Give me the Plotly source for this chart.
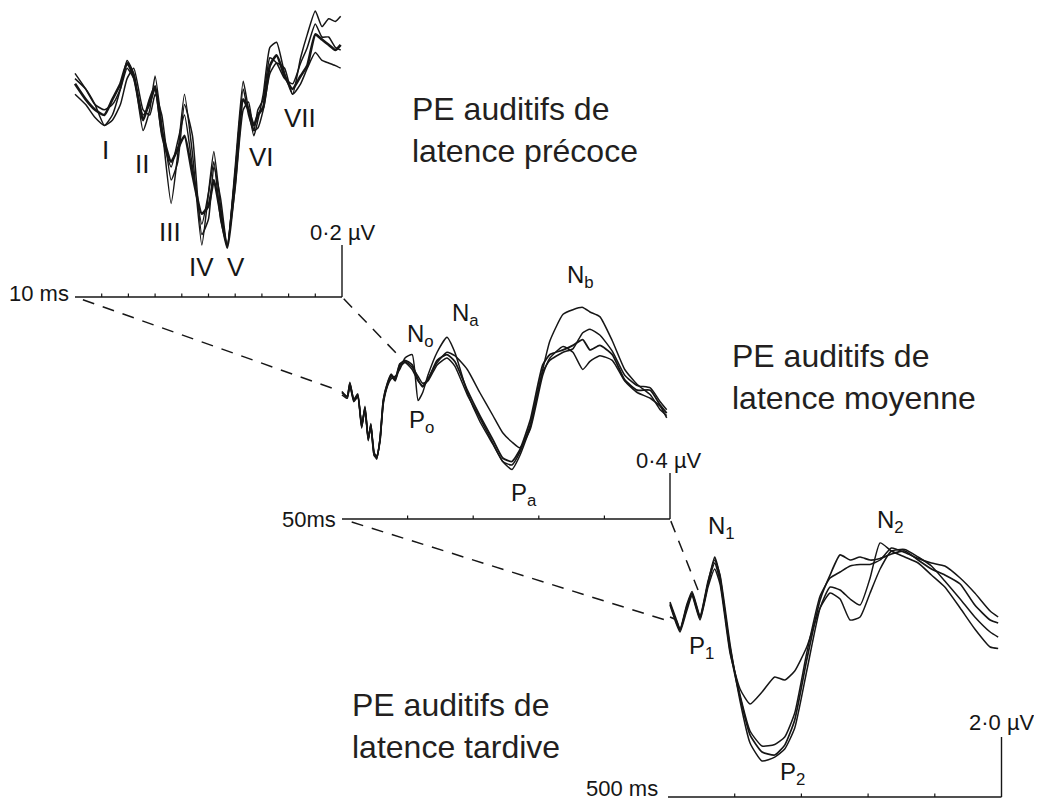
import numpy as np
import plotly.graph_objects as go

W, H = 1042, 804
OFF = 8  # marge du <body> de la page html
FIG_W, FIG_H = W - OFF, H - OFF

# PE précoces : temps (ms) et amplitudes (µV) de 4 essais
t_early = [0, 0.4, 0.75, 1.1, 1.4, 1.7, 1.95, 2.2, 2.55, 2.8, 3.0, 3.25, 3.6, 3.85, 4.1,
           4.4, 4.75, 5.0, 5.2, 5.45, 5.7, 6.0, 6.3, 6.5, 6.7, 6.85, 7.05, 7.3, 7.55, 7.85,
           8.15, 8.45, 8.7, 9.0, 9.25, 9.5, 9.75, 9.95]
early_a = [0.82, 0.76, 0.72, 0.70, 0.76, 0.82, 0.90, 0.85, 0.68, 0.76, 0.81, 0.64, 0.52, 0.57, 0.62,
           0.47, 0.32, 0.35, 0.45, 0.32, 0.19, 0.45, 0.76, 0.72, 0.66, 0.70, 0.73, 0.89, 0.93, 0.85,
           0.80, 0.85, 0.89, 1.01, 0.99, 0.97, 0.95, 0.97]
early_b = [0.84, 0.80, 0.74, 0.66, 0.70, 0.80, 0.91, 0.86, 0.64, 0.72, 0.85, 0.66, 0.36, 0.55, 0.78,
           0.55, 0.20, 0.40, 0.56, 0.35, 0.19, 0.50, 0.83, 0.72, 0.62, 0.68, 0.78, 0.96, 0.98, 0.86,
           0.78, 0.92, 1.01, 1.10, 1.04, 1.07, 1.06, 1.08]
early_c = [0.78, 0.74, 0.69, 0.66, 0.68, 0.74, 0.84, 0.88, 0.72, 0.70, 0.78, 0.70, 0.45, 0.52, 0.74,
           0.62, 0.24, 0.30, 0.50, 0.38, 0.20, 0.42, 0.72, 0.75, 0.64, 0.65, 0.72, 0.86, 0.90, 0.88,
           0.78, 0.82, 0.88, 0.94, 0.91, 0.90, 0.89, 0.88]
early_d = [0.86, 0.80, 0.74, 0.72, 0.74, 0.80, 0.88, 0.84, 0.70, 0.74, 0.80, 0.62, 0.50, 0.60, 0.70,
           0.50, 0.28, 0.40, 0.52, 0.30, 0.20, 0.48, 0.80, 0.70, 0.64, 0.72, 0.76, 0.92, 0.90, 0.84,
           0.82, 0.90, 0.96, 1.05, 1.00, 1.00, 0.96, 0.95]

# PE de latence moyenne
t_mid = [0, 0.8, 1.2, 1.8, 2.4, 3.0, 3.5, 4.0, 4.4, 4.9, 5.3, 5.8, 6.3, 6.9, 7.5,
         8.1, 8.8, 9.6, 10.7, 11.6, 12.3, 13.1, 14.5, 16.0, 17.2, 19.1, 21.0, 23.0, 24.5, 25.9,
         27.1, 28.7, 30.6, 31.7, 33.7, 35.2, 36.7, 37.8, 39.3, 41.2, 43.1, 45.0, 47.0, 48.5, 49.5]
mid_a = [1.10, 1.06, 1.18, 1.03, 1.08, 0.80, 0.97, 0.69, 0.82, 0.56, 0.54, 0.69, 1.03, 1.17, 1.25,
         1.21, 1.34, 1.38, 1.34, 1.21, 1.15, 1.21, 1.38, 1.43, 1.37, 1.12, 0.90, 0.69, 0.53, 0.50,
         0.60, 0.86, 1.34, 1.43, 1.47, 1.51, 1.56, 1.47, 1.51, 1.43, 1.21, 1.12, 1.12, 0.99, 0.92]
mid_b = [1.08, 1.05, 1.16, 1.02, 1.06, 0.82, 0.95, 0.70, 0.80, 0.58, 0.52, 0.70, 1.00, 1.15, 1.22,
         1.24, 1.30, 1.40, 1.43, 1.03, 1.10, 1.25, 1.45, 1.58, 1.45, 1.10, 0.85, 0.65, 0.50, 0.43,
         0.55, 0.80, 1.30, 1.55, 1.78, 1.82, 1.84, 1.80, 1.76, 1.55, 1.30, 1.17, 1.08, 0.95, 0.90]
mid_c = [1.10, 1.07, 1.17, 1.04, 1.07, 0.81, 0.96, 0.70, 0.81, 0.57, 0.55, 0.68, 1.02, 1.16, 1.24,
         1.20, 1.32, 1.36, 1.30, 1.20, 1.16, 1.22, 1.36, 1.45, 1.42, 1.30, 1.10, 0.90, 0.75, 0.67,
         0.62, 0.78, 1.25, 1.40, 1.50, 1.45, 1.30, 1.37, 1.42, 1.38, 1.20, 1.10, 1.05, 0.98, 0.88]
mid_d = [1.11, 1.06, 1.19, 1.04, 1.09, 0.79, 0.98, 0.68, 0.83, 0.55, 0.53, 0.70, 1.04, 1.18, 1.26,
         1.22, 1.35, 1.37, 1.32, 1.24, 1.18, 1.20, 1.34, 1.40, 1.33, 1.08, 0.88, 0.66, 0.50, 0.47,
         0.58, 0.82, 1.28, 1.38, 1.45, 1.48, 1.62, 1.65, 1.60, 1.46, 1.25, 1.16, 1.14, 1.02, 0.95]

# PE tardifs
t_late = [3, 12, 18, 28, 36, 48, 60, 70, 78, 93, 108, 123, 141, 160, 175,
          190, 208, 228, 243, 258, 273, 288, 303, 318, 335, 355, 375, 395, 415, 438,
          460, 483, 495]
late_a = [6.00, 5.90, 5.57, 6.33, 6.80, 6.00, 7.13, 8.00, 7.33, 4.90, 3.33, 2.07, 1.50, 1.40, 1.73,
          2.57, 4.57, 6.57, 7.40, 8.07, 7.90, 8.00, 7.90, 7.95, 8.10, 8.20, 7.90, 7.60, 7.40, 7.10,
          6.40, 5.90, 5.80]
late_b = [6.40, 5.80, 5.50, 6.20, 6.70, 5.90, 7.00, 7.60, 7.10, 4.80, 3.60, 3.10, 3.50, 4.00, 3.90,
          4.20, 5.00, 6.30, 6.80, 6.60, 5.90, 6.00, 6.80, 7.60, 8.20, 8.25, 8.00, 7.70, 7.20, 6.60,
          6.00, 5.50, 5.33]
late_c = [6.50, 5.95, 5.60, 6.40, 6.85, 6.05, 7.20, 7.90, 7.40, 5.10, 3.20, 1.80, 1.20, 1.33, 1.60,
          2.30, 4.20, 6.30, 7.00, 6.90, 6.60, 6.40, 7.30, 8.47, 8.20, 8.00, 7.80, 7.40, 7.00, 6.30,
          5.60, 5.00, 4.95]
late_d = [6.45, 5.85, 5.55, 6.30, 6.75, 5.95, 7.10, 7.80, 7.20, 5.00, 3.40, 2.20, 1.70, 1.75, 2.00,
          2.80, 4.80, 6.70, 7.30, 7.50, 7.70, 7.75, 7.75, 7.90, 8.30, 8.15, 7.95, 7.80, 7.70, 7.30,
          6.80, 6.20, 6.00]

# durée de l'axe (ms), pas des graduations, barre d'échelle (µV)
durations = [10, 50, 500]
tick_steps = [1, 10, 100]
scale_uv = [0.2, 0.4, 2.0]
dur_labels = ["10 ms", "50ms", "500 ms"]
scale_labels = ["0·2 µV", "0·4 µV", "2·0 µV"]

INK = "#161616"
LBL_FONT = dict(family="Liberation Sans", size=22, color=INK)
PEAK_FONT = dict(family="Liberation Sans", size=24, color=INK)

# mise en page de chaque panneau : origine (px de l'image), px par ms, px par µV
panels = [
    dict(t=t_early, ys=[early_a, early_b, early_c, early_d], widths=[2.6, 1.5, 1.5, 1.5],
         origin=(75, 297), px_ms=26.7, px_uv=260,
         peaks=[("I", 1.16, 0.565), ("II", 2.51, 0.51), ("III", 3.56, 0.25), ("IV", 4.72, 0.115),
                ("V", 6.03, 0.115), ("VI", 6.97, 0.54), ("VII", 8.43, 0.69)],
         dur_pos=(-0.15, 0.015), scale_pos=(10.05, 0.25), peak_size=26),
    dict(t=t_mid, ys=[mid_a, mid_b, mid_c, mid_d], widths=[1.8, 1.5, 1.5, 1.5],
         origin=(342, 519), px_ms=6.56, px_uv=115,
         peaks=[("N<sub>o</sub>", 11.9, 1.60), ("N<sub>a</sub>", 18.8, 1.78), ("N<sub>b</sub>", 36.3, 2.11),
                ("P<sub>o</sub>", 12.1, 0.85), ("P<sub>a</sub>", 27.8, 0.21)],
         dur_pos=(-0.6, 0.0), scale_pos=(49.8, 0.51), peak_size=24),
    dict(t=t_late, ys=[late_a, late_b, late_c, late_d], widths=[1.7, 1.5, 1.5, 1.5],
         origin=(668, 797), px_ms=0.667, px_uv=30,
         peaks=[("N<sub>1</sub>", 80, 9.0), ("N<sub>2</sub>", 333, 9.2),
                ("P<sub>1</sub>", 50, 5.0), ("P<sub>2</sub>", 187, 0.77)],
         dur_pos=(-12, 0.27), scale_pos=(501, 2.47), peak_size=24),
]

titles = [("PE auditifs de<br>latence précoce", 410, 130),
          ("PE auditifs de<br>latence moyenne", 730, 377),
          ("PE auditifs de<br>latence tardive", 350, 726)]


def to_paper(p, t, v):
    ox, oy = p["origin"]
    return (ox - OFF + t * p["px_ms"]) / FIG_W, 1 - (oy - OFF - v * p["px_uv"]) / FIG_H


fig = go.Figure()
shapes = []
annotations = []

for i, p in enumerate(panels):
    k = "" if i == 0 else str(i + 1)
    xa, ya = "x" + k, "y" + k
    ox, oy = p["origin"][0] - OFF, p["origin"][1] - OFF
    sx, sy = p["px_ms"], p["px_uv"]
    fig.update_layout({
        "xaxis" + k: dict(domain=[0, 1], range=[-ox / sx, (FIG_W - ox) / sx], visible=False,
                          anchor=ya, fixedrange=True),
        "yaxis" + k: dict(domain=[0, 1], range=[(oy - FIG_H) / sy, oy / sy], visible=False,
                          anchor=xa, fixedrange=True),
    })
    for y, w in zip(p["ys"], p["widths"]):
        fig.add_trace(go.Scatter(x=p["t"], y=y, mode="lines", xaxis=xa, yaxis=ya,
                                 line=dict(color=INK, width=w, shape="spline", smoothing=0.5),
                                 showlegend=False, hoverinfo="skip"))

    dur, step, sc = durations[i], tick_steps[i], scale_uv[i]
    line = dict(color=INK, width=1.4)
    # axe du temps, graduations, barre d'échelle
    shapes.append(dict(type="line", xref=xa, yref=ya, x0=0, x1=dur, y0=0, y1=0, line=line))
    for tk in np.arange(step, dur, step):
        shapes.append(dict(type="line", xref=xa, yref=ya, x0=tk, x1=tk, y0=0, y1=3.5 / sy,
                           line=dict(color=INK, width=1.2)))
    shapes.append(dict(type="line", xref=xa, yref=ya, x0=dur, x1=dur, y0=0, y1=sc, line=line))

    annotations.append(dict(xref=xa, yref=ya, x=p["dur_pos"][0], y=p["dur_pos"][1],
                            text=dur_labels[i], showarrow=False, xanchor="right",
                            yanchor="middle", font=LBL_FONT))
    annotations.append(dict(xref=xa, yref=ya, x=p["scale_pos"][0], y=p["scale_pos"][1],
                            text=scale_labels[i], showarrow=False, xanchor="center",
                            yanchor="middle", font=LBL_FONT))
    for txt, tx, ty in p["peaks"]:
        annotations.append(dict(xref=xa, yref=ya, x=tx, y=ty, text=txt, showarrow=False,
                                xanchor="center", yanchor="middle",
                                font=dict(PEAK_FONT, size=p["peak_size"])))

# traits pointillés reliant les fenêtres temporelles
connectors = [(0, 0, 0, 1, -0.6, 1.12), (0, 10, 0, 1, 8.8, 1.41),
              (1, 0, 0, 2, -4, 5.9), (1, 50, 0, 2, 45, 6.9)]
for a, ta, va, b, tb, vb in connectors:
    x0, y0 = to_paper(panels[a], ta, va)
    x1, y1 = to_paper(panels[b], tb, vb)
    # petit décalage au départ comme sur la figure
    x0, y0 = x0 + 0.03 * (x1 - x0), y0 + 0.03 * (y1 - y0)
    shapes.append(dict(type="line", xref="paper", yref="paper", x0=x0, y0=y0, x1=x1, y1=y1,
                       line=dict(color=INK, width=1.5, dash="12px,9px")))

for txt, x, y in titles:
    annotations.append(dict(xref="paper", yref="paper", x=(x - OFF) / FIG_W, y=1 - (y - OFF) / FIG_H,
                            text=txt, showarrow=False, xanchor="left", yanchor="middle", align="left",
                            font=dict(family="Liberation Sans", size=32, color="#231f20")))

fig.update_layout(width=FIG_W, height=FIG_H, margin=dict(l=0, r=0, t=0, b=0),
                  paper_bgcolor="white", plot_bgcolor="rgba(0,0,0,0)",
                  shapes=shapes, annotations=annotations, showlegend=False)

fig.write_html("out.html")
